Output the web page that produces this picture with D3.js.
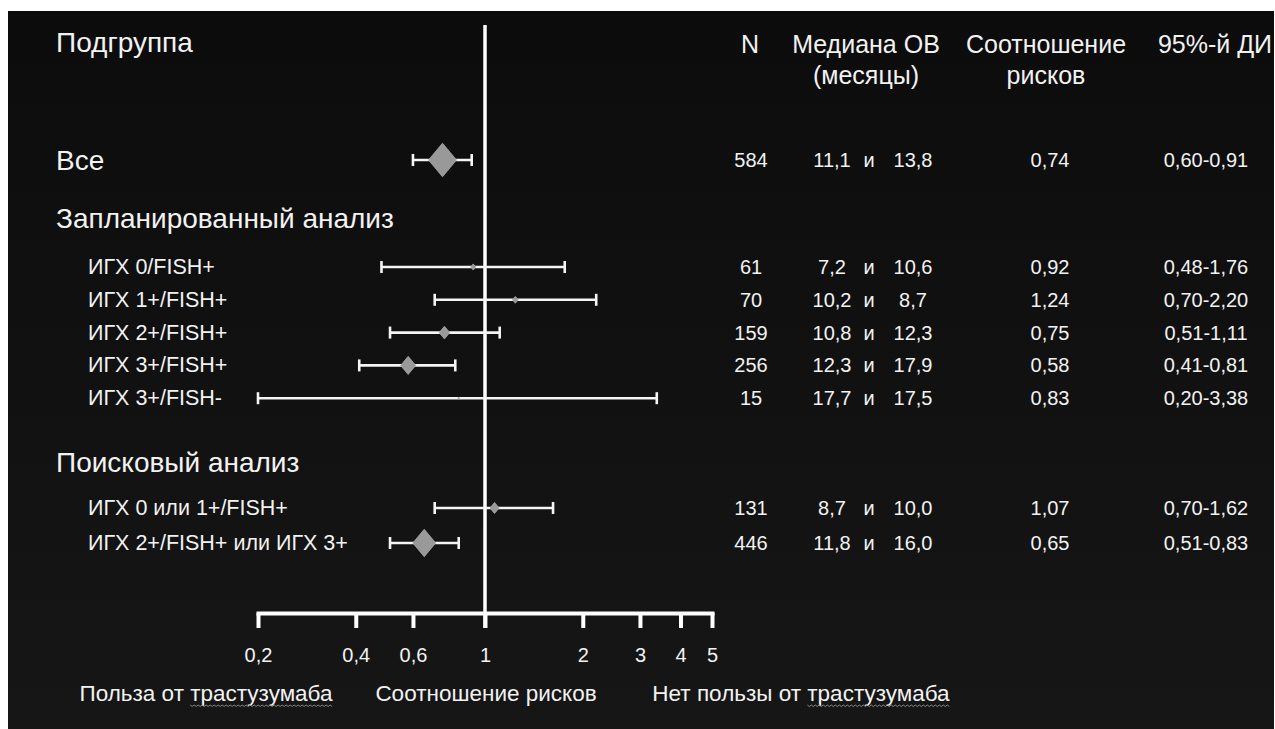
<!DOCTYPE html>
<html>
<head>
<meta charset="utf-8">
<script src="https://cdn.jsdelivr.net/npm/d3@7"></script>
<style>
  html, body { margin: 0; padding: 0; background: #fff; }
  svg text { font-family: "Liberation Sans", Arial, sans-serif; fill: #f2f2f2; }
</style>
</head>
<body>
<div id="chart"></div>
<script>
// Données du graphique (forest plot)
const subgroups = ["Все", "ИГХ 0/FISH+", "ИГХ 1+/FISH+", "ИГХ 2+/FISH+", "ИГХ 3+/FISH+", "ИГХ 3+/FISH-", "ИГХ 0 или 1+/FISH+", "ИГХ 2+/FISH+ или ИГХ 3+"];
const groups = ["all", "planned", "planned", "planned", "planned", "planned", "explore", "explore"];
const nValues = [584, 61, 70, 159, 256, 15, 131, 446];
const medianControl = ["11,1", "7,2", "10,2", "10,8", "12,3", "17,7", "8,7", "11,8"];
const medianTrast = ["13,8", "10,6", "8,7", "12,3", "17,9", "17,5", "10,0", "16,0"];
const hazardRatio = [0.74, 0.92, 1.24, 0.75, 0.58, 0.83, 1.07, 0.65];
const ciLow = [0.60, 0.48, 0.70, 0.51, 0.41, 0.20, 0.70, 0.51];
const ciHigh = [0.91, 1.76, 2.20, 1.11, 0.81, 3.38, 1.62, 0.83];
const sectionTitles = ["Запланированный анализ", "Поисковый анализ"];
const tickValues = [0.2, 0.4, 0.6, 1, 2, 3, 4, 5];
const bottomLabels = ["Польза от трастузумаба", "Соотношение рисков", "Нет пользы от трастузумаба"];

const fmt = d => String(d).replace(".", ",");

// Dimensions
var width = 1275, height = 729;
var svg = d3.select("#chart").append("svg")
  .attr("width", width)
  .attr("height", height);

// Fond sombre avec léger dégradé
var grad = svg.append("defs").append("linearGradient")
  .attr("id", "bg").attr("x1", 0).attr("y1", 0).attr("x2", 0).attr("y2", 1);
grad.append("stop").attr("offset", "0%").attr("stop-color", "#0c0c0c");
grad.append("stop").attr("offset", "100%").attr("stop-color", "#161616");
svg.append("rect")
  .attr("x", 8).attr("y", 11)
  .attr("width", 1266).attr("height", 718)
  .attr("fill", "url(#bg)");

// Échelles
var x = d3.scaleLog().domain([0.2, 5]).range([258, 712]);
var rowY = {
  all: d3.scaleLinear().domain([0, 1]).range([160, 192.8]),
  planned: d3.scaleLinear().domain([0, 1]).range([267, 299.8]),
  explore: d3.scaleLinear().domain([0, 1]).range([508, 543])
};
var size = d3.scalePow().exponent(0.75).domain([0, 584]).range([0, 14]);

var rows = subgroups.map(function(s, i) {
  var idx = groups.slice(0, i).filter(function(g) { return g === groups[i]; }).length;
  return {
    label: s, group: groups[i], n: nValues[i], mc: medianControl[i], mt: medianTrast[i],
    hr: hazardRatio[i], lo: ciLow[i], hi: ciHigh[i], y: rowY[groups[i]](idx)
  };
});

// En-têtes
svg.append("text").attr("x", 56).attr("y", 52).attr("font-size", 28).text("Подгруппа");
var headers = [
  {x: 750, lines: ["N"]},
  {x: 866, lines: ["Медиана ОВ", "(месяцы)"]},
  {x: 1046, lines: ["Соотношение", "рисков"]},
  {x: 1215, lines: ["95%-й ДИ"]}
];
headers.forEach(function(h) {
  h.lines.forEach(function(l, j) {
    svg.append("text")
      .attr("x", h.x).attr("y", 53 + j * 31)
      .attr("text-anchor", "middle")
      .attr("font-size", 25)
      .text(l);
  });
});

// Titres de sections
svg.append("text").attr("x", 56).attr("y", 228).attr("font-size", 28).text(sectionTitles[0]);
svg.append("text").attr("x", 56).attr("y", 472).attr("font-size", 28).text(sectionTitles[1]);

// Axe X
var axis = svg.append("g")
  .attr("transform", "translate(0,613)")
  .call(d3.axisBottom(x)
    .tickValues(tickValues)
    .tickFormat(fmt)
    .tickSize(15)
    .tickSizeOuter(0)
    .tickPadding(20));
axis.select(".domain").attr("stroke", "#fff").attr("stroke-width", 4).attr("stroke-linecap", "square");
axis.selectAll(".tick line").attr("stroke", "#fff").attr("stroke-width", 4);
axis.selectAll(".tick text")
  .attr("fill", "#f2f2f2")
  .attr("font-size", 20)
  .attr("font-family", "Liberation Sans, Arial, sans-serif");

// Ligne de référence (HR = 1)
svg.append("line")
  .attr("x1", x(1)).attr("x2", x(1))
  .attr("y1", 25).attr("y2", 628)
  .attr("stroke", "#fff").attr("stroke-width", 3.5);

// Intervalles de confiance
var ci = svg.selectAll("g.ci").data(rows).enter().append("g").attr("class", "ci");
ci.append("line")
  .attr("x1", function(d) { return x(d.lo); })
  .attr("x2", function(d) { return x(d.hi); })
  .attr("y1", function(d) { return d.y; })
  .attr("y2", function(d) { return d.y; })
  .attr("stroke", "#f4f4f4").attr("stroke-width", 2.6);
["lo", "hi"].forEach(function(k) {
  ci.append("line")
    .attr("x1", function(d) { return x(d[k]); })
    .attr("x2", function(d) { return x(d[k]); })
    .attr("y1", function(d) { return d.y - 6; })
    .attr("y2", function(d) { return d.y + 6; })
    .attr("stroke", "#f4f4f4").attr("stroke-width", 2.6);
});

// Losanges
svg.selectAll("path.diamond").data(rows).enter().append("path")
  .attr("class", "diamond")
  .attr("d", function(d) {
    var cx = x(d.hr), w = size(d.n), h = w * 1.2;
    return "M" + cx + "," + (d.y - h) + "L" + (cx + w) + "," + d.y +
           "L" + cx + "," + (d.y + h) + "L" + (cx - w) + "," + d.y + "Z";
  })
  .attr("fill", "#999")
  .attr("stroke", "#aaa")
  .attr("stroke-width", 0.8);

// Libellés des sous-groupes
svg.selectAll("text.label").data(rows).enter().append("text")
  .attr("class", "label")
  .attr("x", function(d) { return d.group === "all" ? 56 : 88; })
  .attr("y", function(d) { return d.y + (d.group === "all" ? 10 : 7); })
  .attr("font-size", function(d) { return d.group === "all" ? 28 : 21.5; })
  .text(function(d) { return d.label; });

// Colonnes de valeurs
var cols = [
  {x: 751, f: function(d) { return d.n; }},
  {x: 832, f: function(d) { return d.mc; }},
  {x: 869, f: function() { return "и"; }},
  {x: 913, f: function(d) { return d.mt; }},
  {x: 1050, f: function(d) { return fmt(d.hr.toFixed(2)); }},
  {x: 1206, f: function(d) { return fmt(d.lo.toFixed(2)) + "-" + fmt(d.hi.toFixed(2)); }}
];
cols.forEach(function(c) {
  svg.selectAll(null).data(rows).enter().append("text")
    .attr("x", c.x)
    .attr("y", function(d) { return d.y + 7; })
    .attr("text-anchor", "middle")
    .attr("font-size", 20)
    .text(c.f);
});

// Légendes du bas
var bx = [206, 486, 801];
bottomLabels.forEach(function(l, i) {
  var t = svg.append("text")
    .attr("x", bx[i]).attr("y", 701)
    .attr("text-anchor", "middle")
    .attr("font-size", 22.5)
    .text(l);
  // soulignement ondulé (correcteur orthographique)
  var k = l.indexOf("трастузумаба");
  if (k >= 0) {
    var node = t.node();
    var start = node.getStartPositionOfChar(k).x;
    var end = node.getEndPositionOfChar(l.length - 1).x;
    var pts = d3.range(start, end, 2).map(function(px, j) { return [px, 705 + (j % 2 ? 1.5 : 0)]; });
    svg.append("path")
      .attr("d", d3.line()(pts))
      .attr("fill", "none")
      .attr("stroke", "#8a8a8a")
      .attr("stroke-width", 1);
  }
});
</script>
</body>
</html>
